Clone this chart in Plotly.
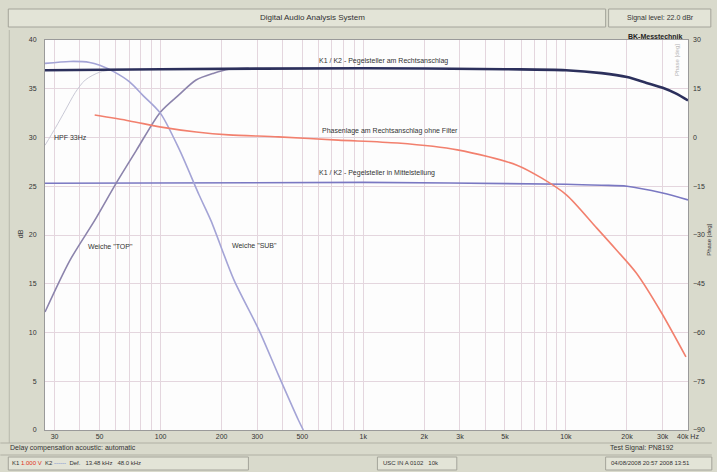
import plotly.graph_objects as go

# ---------------- data ----------------
# K1/K2 level control fully clockwise (dark navy), dB
f_full = [26.9, 100, 1000, 5000, 10000, 15000, 20000, 25000, 30000, 35000, 40000]
db_full = [36.9, 37.0, 37.1, 37.0, 36.9, 36.6, 36.2, 35.6, 35.1, 34.5, 33.8]

# K1/K2 level control centre position, dB
f_mid = [26.9, 1000, 10000, 15000, 20000, 30000, 40000]
db_mid = [25.3, 25.4, 25.2, 25.1, 25.0, 24.3, 23.6]

# crossover "TOP", dB
f_top = [26.9, 35.7, 47.3, 60.7, 76.0, 99.7, 123.5, 149.6, 183, 217, 272]
db_top = [12.1, 17.4, 21.5, 25.4, 28.7, 32.6, 34.4, 35.9, 36.6, 37.0, 37.1]

# crossover "SUB", dB
f_sub = [26.9, 35.7, 44.7, 50.1, 59.3, 70.3, 82.0, 99.7, 123.5, 154.9, 177, 230, 305, 382, 479, 506]
db_sub = [37.6, 37.8, 37.7, 37.4, 36.7, 35.7, 34.3, 32.5, 28.8, 24.1, 21.5, 15.4, 10.3, 5.6, 1.0, 0.0]

# HPF 33 Hz, dB
f_hpf = [26.9, 30.3, 33.9, 37.9, 42.5, 50.1, 62.4]
db_hpf = [29.2, 31.0, 32.8, 34.6, 35.9, 36.7, 37.0]

# phase, fully clockwise without filter, degrees (right axis)
f_phase = [47.3, 70.3, 100.8, 150, 217, 382, 752, 1479, 2911, 5728, 7600, 10080, 14160, 17740, 22240, 29450, 39080]
ph_phase = [6.9, 5.1, 3.2, 1.7, 0.8, 0.2, -0.8, -1.7, -3.8, -8.5, -12.5, -17.7, -27.8, -34.6, -41.7, -53.7, -67.5]

# axis ticks
x_labels = {30: "30", 50: "50", 100: "100", 200: "200", 300: "300", 500: "500",
            1000: "1k", 2000: "2k", 3000: "3k", 5000: "5k", 10000: "10k",
            20000: "20k", 30000: "30k", 40000: "40k Hz"}
grid_f = [m * d for d in [10, 100, 1000, 10000] for m in range(1, 10) if 27 <= m * d <= 40000]
x_text = [x_labels.get(v, "") for v in grid_f]

# ---------------- layout helpers ----------------
W, H = 717, 472
L, R, T, B = 45, 693, 40, 430


def px(x):
    return (x - L) / (R - L)


def py(y):
    return (B - y) / (B - T)


FONT = "Liberation Sans, Arial, sans-serif"
fig = go.Figure()


def curve(x, y, color, width, yaxis="y"):
    fig.add_trace(go.Scatter(x=x, y=y, mode="lines", yaxis=yaxis, hoverinfo="skip",
                             line=dict(color=color, width=width, shape="spline", smoothing=0.8)))


curve(f_hpf, db_hpf, "#c9c9d6", 1)
curve(f_mid, db_mid, "#7a78c2", 1.6)
curve(f_top, db_top, "#8c84ac", 1.6)
curve(f_sub, db_sub, "#a4a4d6", 1.6)
curve(f_full, db_full, "#2c305c", 2.6)
curve(f_phase, ph_phase, "#f2806e", 1.6, yaxis="y2")

grid_c = "#e4d6de"
fig.update_layout(
    width=W, height=H, autosize=False,
    margin=dict(l=L, r=W - R, t=T, b=H - B, pad=0),
    paper_bgcolor="#d9dacc", plot_bgcolor="#fdfdfd",
    showlegend=False,
    font=dict(family=FONT, size=7, color="#333333"),
    xaxis=dict(type="log", range=[1.4297, 4.6021], tickvals=grid_f, ticktext=x_text,
               showgrid=True, gridcolor=grid_c, gridwidth=1, zeroline=False,
               showline=True, linecolor="#9a9a9a", mirror=True, ticks="",
               tickfont=dict(size=7, color="#333333")),
    yaxis=dict(range=[0, 40], dtick=5, showgrid=True, gridcolor=grid_c, zeroline=False,
               showline=True, linecolor="#9a9a9a", mirror=True, ticks="",
               ticklabelstandoff=6, tickfont=dict(size=7, color="#333333")),
    yaxis2=dict(range=[-90, 30], dtick=15, overlaying="y", side="right", showgrid=False,
                zeroline=False, ticks="", ticklabelstandoff=4,
                tickfont=dict(size=7, color="#333333")),
)

shapes = []
# title bar and signal level box
shapes.append(dict(type="rect", xref="paper", yref="paper", x0=px(8), x1=px(610), y0=py(9), y1=py(27),
                   fillcolor="#e3e4d7", line=dict(color="#a4a49a", width=1), layer="below"))
shapes.append(dict(type="rect", xref="paper", yref="paper", x0=px(613), x1=px(716), y0=py(9), y1=py(27),
                   fillcolor="#e3e4d7", line=dict(color="#a4a49a", width=1), layer="below"))
# left frame line
shapes.append(dict(type="line", xref="paper", yref="paper", x0=px(9), x1=px(9), y0=py(30), y1=py(443),
                   line=dict(color="#b8b8ac", width=1)))
# bottom status separators
shapes.append(dict(type="line", xref="paper", yref="paper", x0=px(0), x1=px(717), y0=py(443), y1=py(443),
                   line=dict(color="#b0b0a4", width=1)))
shapes.append(dict(type="line", xref="paper", yref="paper", x0=px(0), x1=px(717), y0=py(455), y1=py(455),
                   line=dict(color="#b0b0a4", width=1)))
for bx0, bx1 in [(8, 250), (380, 460), (610, 717)]:
    shapes.append(dict(type="rect", xref="paper", yref="paper", x0=px(bx0), x1=px(bx1), y0=py(457), y1=py(470),
                       fillcolor="#e3e4d7", line=dict(color="#a4a49a", width=1), layer="below"))
fig.update_layout(shapes=shapes)

ann = []


def text(x, y, s, size=7, xanchor="center", color="#333333", bold=False, angle=0):
    ann.append(dict(xref="paper", yref="paper", x=px(x), y=py(y), text=("<b>%s</b>" % s) if bold else s,
                    showarrow=False, xanchor=xanchor, yanchor="middle", textangle=angle,
                    font=dict(family=FONT, size=size, color=color)))


text(315, 18, "Digital Audio Analysis System", size=8)
text(665, 18, "Signal level: 22.0 dBr", size=7)
text(690, 36, "BK-Messtechnik", size=7, xanchor="right", bold=True, color="#222222")
text(386, 61, "K1 / K2 - Pegelsteller am Rechtsanschlag")
text(393, 131, "Phasenlage am Rechtsanschlag ohne Filter")
text(380, 173, "K1 / K2 - Pegelsteller in Mittelstellung")
text(71, 137, "HPF 33Hz")
text(111, 246, "Weiche \"TOP\"")
text(256, 245, "Weiche \"SUB\"")
text(20, 234, "dB", size=7, angle=-90)
text(714, 240, "Phase [deg]", size=6, angle=-90)
text(682, 60, "Phase [deg]", size=6, angle=-90, color="#b4b4b4")
text(8, 448, "Delay compensation acoustic: automatic", xanchor="left")
text(612, 448, "Test Signal: PN8192", xanchor="left")
text(10, 463.5, "K1 <span style='color:#e03020'>1.000 V</span>  K2 <span style='color:#6080d0'>------</span>  Def.   13.48 kHz   48.0 kHz", xanchor="left", size=6)
text(384, 463.5, "USC IN A 0102   10k", xanchor="left", size=6)
text(613, 463.5, "04/08/2008 20:57 2008 13:51", xanchor="left", size=6)
fig.update_layout(annotations=ann)

fig.write_html("out.html", config={"displayModeBar": False},
               post_script="document.body.style.margin='0';document.body.style.overflow='hidden';")
